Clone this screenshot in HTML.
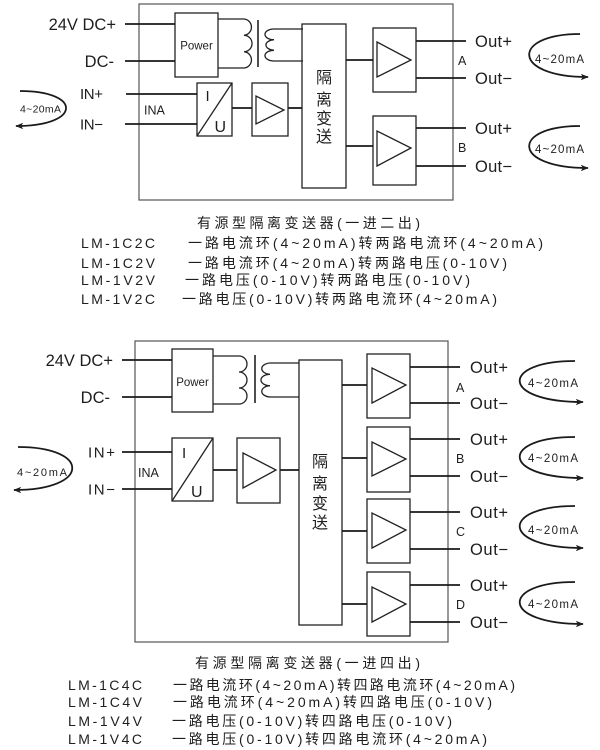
<!DOCTYPE html>
<html><head><meta charset="utf-8"><style>
html,body{margin:0;padding:0;background:#fff;}
svg{display:block;}
text{font-family:"Liberation Sans","Noto Sans CJK SC",sans-serif;fill:#1e1e1e;}
.cj{font-family:"Liberation Sans","Noto Sans CJK SC",sans-serif;}
</style></head><body>
<svg width="600" height="750" viewBox="0 0 600 750" xmlns="http://www.w3.org/2000/svg">
<defs>
<marker id="ar" viewBox="0 0 10 8" refX="9" refY="4" markerWidth="8" markerHeight="6.5" orient="auto" markerUnits="userSpaceOnUse">
<path d="M0,0 L10,4 L0,8 L2.5,4 Z" fill="#1e1e1e"/>
</marker>
</defs>
<g fill="none" stroke="#222" stroke-width="1.3">
<!-- ===== TOP DIAGRAM ===== -->
<rect x="139" y="4" width="314" height="196" stroke="#555" stroke-width="1.2"/>
<rect x="175" y="13" width="43" height="64"/>
<path d="M218,19 L244,19 A8 8.17 0 0 1 244,35.3 A8 8.17 0 0 1 244,51.7 A8 8.17 0 0 1 244,68 L218,68"/>
<line x1="258" y1="20" x2="258" y2="67" stroke-width="1.6"/>
<path d="M303,29 L274,29 A9 5.33 0 0 0 274,39.7 A9 5.33 0 0 0 274,50.3 A9 5.33 0 0 0 274,61 L303,61"/>
<rect x="302" y="24" width="44" height="164"/>
<rect x="197" y="83" width="35" height="53"/>
<line x1="197" y1="136" x2="232" y2="83"/>
<rect x="252" y="83" width="36" height="53"/>
<polygon points="256,96 256,124 284,110"/>
<rect x="373" y="28" width="43" height="64"/>
<polygon points="377,42 377,77 411,60"/>
<rect x="373" y="116" width="43" height="69"/>
<polygon points="377,131 377,166 411,148"/>
</g>
<g stroke="#1a1a1a" stroke-width="1.8" fill="none">
<line x1="125" y1="24" x2="175" y2="24"/>
<line x1="125" y1="61" x2="175" y2="61"/>
<line x1="126" y1="94" x2="197" y2="94"/>
<line x1="125" y1="124" x2="197" y2="124"/>
<line x1="232" y1="108" x2="252" y2="108"/>
<line x1="288" y1="108" x2="302" y2="108"/>
<line x1="346" y1="60" x2="373" y2="60"/>
<line x1="346" y1="146" x2="373" y2="146"/>
<line x1="416" y1="41" x2="466" y2="41"/>
<line x1="416" y1="78" x2="466" y2="78"/>
<line x1="416" y1="128" x2="466" y2="128"/>
<line x1="416" y1="166" x2="466" y2="166"/>
<path d="M20,91 C82,91 82,126 16,126" marker-end="url(#ar)"/>
<path d="M580,34 C511,34 511,77 588,77" marker-end="url(#ar)"/>
<path d="M580,126 C511,126 511,168 588,168" marker-end="url(#ar)"/>
</g>
<text x="116" y="30" font-size="16.5" text-anchor="end">24V DC+</text>
<text x="114" y="67" font-size="16.5" text-anchor="end">DC-</text>
<text x="196.5" y="49.5" font-size="11.5" text-anchor="middle">Power</text>
<text x="80" y="99" font-size="15" textLength="23">IN+</text>
<text x="80" y="129.5" font-size="15" textLength="23">IN−</text>
<text x="144" y="114.5" font-size="12.5">INA</text>
<text x="205.5" y="101" font-size="15">I</text>
<text x="214.5" y="132" font-size="16">U</text>
<text x="20" y="112.5" font-size="10.5" textLength="41">4~20mA</text>
<g class="cj" font-size="16" text-anchor="middle">
<text x="324" y="83">隔</text>
<text x="324" y="105">离</text>
<text x="324" y="124">变</text>
<text x="324" y="142">送</text>
</g>
<text x="475" y="47" font-size="16.5" textLength="37">Out+</text>
<text x="475" y="84" font-size="16.5" textLength="37">Out−</text>
<text x="475" y="134" font-size="16.5" textLength="37">Out+</text>
<text x="475" y="172" font-size="16.5" textLength="37">Out−</text>
<text x="458" y="65" font-size="12.5">A</text>
<text x="458" y="152" font-size="12.5">B</text>
<text x="535" y="63" font-size="11.5" textLength="49">4~20mA</text>
<text x="535" y="153" font-size="11.5" textLength="49">4~20mA</text>

<g class="cj" font-size="14">
<text x="197" y="228" textLength="223" lengthAdjust="spacing">有源型隔离变送器(一进二出)</text>
<text x="81" y="248" textLength="74" lengthAdjust="spacing">LM-1C2C</text>
<text x="188" y="248" textLength="355" lengthAdjust="spacing">一路电流环(4~20mA)转两路电流环(4~20mA)</text>
<text x="81" y="268" textLength="74" lengthAdjust="spacing">LM-1C2V</text>
<text x="188" y="268" textLength="319" lengthAdjust="spacing">一路电流环(4~20mA)转两路电压(0-10V)</text>
<text x="81" y="285" textLength="74" lengthAdjust="spacing">LM-1V2V</text>
<text x="185" y="285" textLength="285" lengthAdjust="spacing">一路电压(0-10V)转两路电压(0-10V)</text>
<text x="81" y="304" textLength="74" lengthAdjust="spacing">LM-1V2C</text>
<text x="182" y="304" textLength="315" lengthAdjust="spacing">一路电压(0-10V)转两路电流环(4~20mA)</text>
</g>

<!-- ===== BOTTOM DIAGRAM ===== -->
<g fill="none" stroke="#222" stroke-width="1.3">
<rect x="135" y="341" width="313" height="301" stroke="#555" stroke-width="1.2"/>
<rect x="172" y="349" width="41" height="63"/>
<path d="M213,356 L239,356 A8 8 0 0 1 239,372 A8 8 0 0 1 239,388 A8 8 0 0 1 239,404 L213,404"/>
<line x1="255" y1="355" x2="255" y2="403" stroke-width="1.6"/>
<path d="M299,363 L270,363 A9 5.67 0 0 0 270,374.3 A9 5.67 0 0 0 270,385.7 A9 5.67 0 0 0 270,397 L299,397"/>
<rect x="299" y="360" width="43" height="265"/>
<rect x="172" y="438" width="41" height="63"/>
<line x1="172" y1="501" x2="213" y2="438"/>
<rect x="237" y="438" width="43" height="65"/>
<polygon points="243,453 243,488 276,470"/>
<rect x="367" y="354" width="43" height="64"/>
<polygon points="372,368 372,403 406,385"/>
<rect x="367" y="427" width="43" height="65"/>
<polygon points="372,442 372,476 406,459"/>
<rect x="367" y="499" width="43" height="64"/>
<polygon points="372,513 372,548 406,530"/>
<rect x="367" y="572" width="43" height="64"/>
<polygon points="372,587 372,622 406,604"/>
</g>
<g stroke="#1a1a1a" stroke-width="1.8" fill="none">
<line x1="122" y1="360" x2="172" y2="360"/>
<line x1="122" y1="397" x2="172" y2="397"/>
<line x1="122" y1="452" x2="172" y2="452"/>
<line x1="122" y1="489" x2="172" y2="489"/>
<line x1="213" y1="470" x2="237" y2="470"/>
<line x1="280" y1="470" x2="299" y2="470"/>
<line x1="342" y1="385" x2="367" y2="385"/>
<line x1="342" y1="458" x2="367" y2="458"/>
<line x1="342" y1="531" x2="367" y2="531"/>
<line x1="342" y1="604" x2="367" y2="604"/>
<line x1="410" y1="367" x2="460" y2="367"/>
<line x1="410" y1="403" x2="460" y2="403"/>
<line x1="410" y1="439" x2="460" y2="439"/>
<line x1="410" y1="476" x2="460" y2="476"/>
<line x1="410" y1="512" x2="460" y2="512"/>
<line x1="410" y1="549" x2="460" y2="549"/>
<line x1="410" y1="585" x2="460" y2="585"/>
<line x1="410" y1="622" x2="460" y2="622"/>
<path d="M18,447 C91,447 91,490 14,490" marker-end="url(#ar)"/>
<path d="M575,361 C500,361 500,402 583,402" marker-end="url(#ar)"/>
<path d="M575,437 C500,437 500,478 583,478" marker-end="url(#ar)"/>
<path d="M575,506 C500,506 500,548 583,548" marker-end="url(#ar)"/>
<path d="M575,582 C500,582 500,624 583,624" marker-end="url(#ar)"/>
</g>
<text x="113" y="366" font-size="16.5" text-anchor="end">24V DC+</text>
<text x="110" y="403" font-size="16.5" text-anchor="end">DC-</text>
<text x="192.5" y="386" font-size="11.5" text-anchor="middle">Power</text>
<text x="88" y="457.5" font-size="15" textLength="27">IN+</text>
<text x="88" y="494.5" font-size="15" textLength="27">IN−</text>
<text x="138" y="477" font-size="12.5">INA</text>
<text x="182" y="458" font-size="15">I</text>
<text x="191" y="497" font-size="16">U</text>
<text x="17" y="476" font-size="11" textLength="50">4~20mA</text>
<g class="cj" font-size="16" text-anchor="middle">
<text x="320" y="467">隔</text>
<text x="320" y="489">离</text>
<text x="320" y="509">变</text>
<text x="320" y="528">送</text>
</g>
<text x="470" y="373" font-size="16.5" textLength="38">Out+</text>
<text x="470" y="409" font-size="16.5" textLength="38">Out−</text>
<text x="470" y="445" font-size="16.5" textLength="38">Out+</text>
<text x="470" y="482" font-size="16.5" textLength="38">Out−</text>
<text x="470" y="518" font-size="16.5" textLength="38">Out+</text>
<text x="470" y="555" font-size="16.5" textLength="38">Out−</text>
<text x="470" y="591" font-size="16.5" textLength="38">Out+</text>
<text x="470" y="628" font-size="16.5" textLength="38">Out−</text>
<text x="456" y="392" font-size="12.5">A</text>
<text x="456" y="463" font-size="12.5">B</text>
<text x="456" y="536" font-size="12.5">C</text>
<text x="456" y="609" font-size="12.5">D</text>
<text x="528" y="387" font-size="11.5" textLength="50">4~20mA</text>
<text x="528" y="462" font-size="11.5" textLength="50">4~20mA</text>
<text x="528" y="534" font-size="11.5" textLength="50">4~20mA</text>
<text x="528" y="608" font-size="11.5" textLength="50">4~20mA</text>

<g class="cj" font-size="14">
<text x="195" y="668" textLength="225" lengthAdjust="spacing">有源型隔离变送器(一进四出)</text>
<text x="68" y="690" textLength="74" lengthAdjust="spacing">LM-1C4C</text>
<text x="173" y="690" textLength="342" lengthAdjust="spacing">一路电流环(4~20mA)转四路电流环(4~20mA)</text>
<text x="68" y="707" textLength="74" lengthAdjust="spacing">LM-1C4V</text>
<text x="173" y="707" textLength="319" lengthAdjust="spacing">一路电流环(4~20mA)转四路电压(0-10V)</text>
<text x="68" y="726" textLength="74" lengthAdjust="spacing">LM-1V4V</text>
<text x="172" y="726" textLength="280" lengthAdjust="spacing">一路电压(0-10V)转四路电压(0-10V)</text>
<text x="68" y="744" textLength="74" lengthAdjust="spacing">LM-1V4C</text>
<text x="172" y="744" textLength="315" lengthAdjust="spacing">一路电压(0-10V)转四路电流环(4~20mA)</text>
</g>
</svg>
</body></html>
